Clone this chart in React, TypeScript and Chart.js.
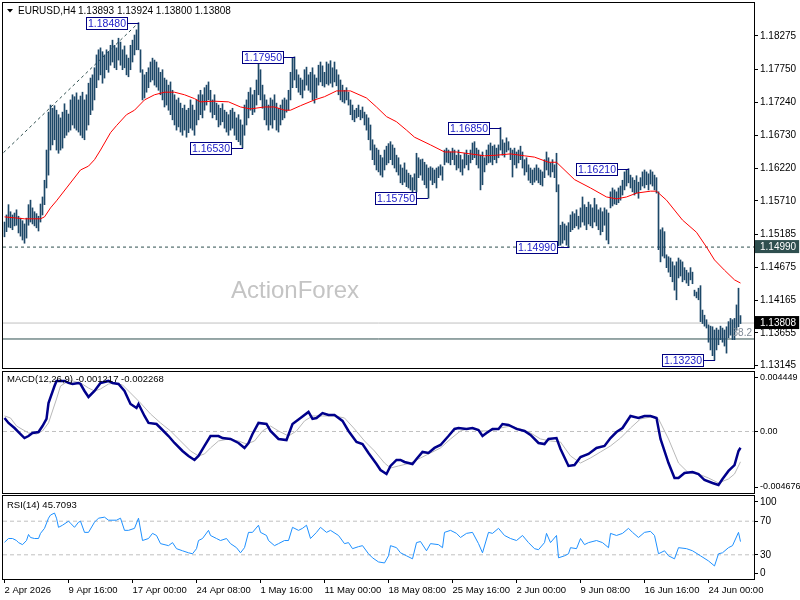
import React, { useEffect, useRef } from "react";
import { Chart, registerables } from "chart.js";
Chart.register(...registerables);

const FONT = "'Liberation Sans', Arial, sans-serif";

// ---------- header ----------
const symbolTitle = "EURUSD,H4";
const lastOHLC = [1.13893, 1.13924, 1.138, 1.13808];

// ---------- x axis ----------
const xTickIdx = [0, 32, 64, 96, 128, 160, 192, 224, 256, 288, 320, 352];
const xTickLabels = ["2 Apr 2026", "9 Apr 16:00", "17 Apr 00:00", "24 Apr 08:00", "1 May 16:00", "11 May 00:00", "18 May 08:00", "25 May 16:00", "2 Jun 00:00", "9 Jun 08:00", "16 Jun 16:00", "24 Jun 00:00"];

// ---------- price bars (H4) ----------
const highs = [
  1.1538,1.1549,1.1565,1.1554,1.1549,1.1552,1.1557,1.1547,1.1544,1.1540,
  1.1535,1.1544,1.1565,1.1572,1.1560,1.1554,1.1551,1.1547,1.1566,1.1577,
  1.1603,1.1650,1.1709,1.1720,1.1715,1.1719,1.1712,1.1705,1.1700,1.1709,
  1.1722,1.1712,1.1706,1.1728,1.1736,1.1733,1.1739,1.1728,1.1734,1.1740,
  1.1728,1.1736,1.1754,1.1762,1.1767,1.1778,1.1798,1.1806,1.1809,1.1803,
  1.1798,1.1806,1.1803,1.1813,1.1821,1.1813,1.1809,1.1824,1.1818,1.1806,
  1.1812,1.1798,1.1793,1.1813,1.1821,1.1829,1.1837,1.1848,1.1806,1.1775,
  1.1767,1.1771,1.1778,1.1787,1.1793,1.1790,1.1787,1.1778,1.1771,1.1775,
  1.1762,1.1759,1.1751,1.1756,1.1743,1.1736,1.1728,1.1731,1.1723,1.1715,
  1.1720,1.1712,1.1715,1.1728,1.1720,1.1712,1.1728,1.1736,1.1743,1.1736,
  1.1747,1.1751,1.1756,1.1743,1.1728,1.1736,1.1723,1.1720,1.1715,1.1722,
  1.1712,1.1709,1.1705,1.1712,1.1715,1.1709,1.1700,1.1705,1.1697,1.1689,
  1.1720,1.1728,1.1740,1.1747,1.1736,1.1743,1.1759,1.1787,1.1775,1.1751,
  1.1736,1.1728,1.1720,1.1731,1.1728,1.1736,1.1723,1.1715,1.1720,1.1728,
  1.1731,1.1728,1.1743,1.1771,1.1793,1.1795,1.1775,1.1767,1.1762,1.1759,
  1.1775,1.1779,1.1767,1.1771,1.1778,1.1767,1.1762,1.1782,1.1787,1.1781,
  1.1771,1.1787,1.1784,1.1789,1.1778,1.1787,1.1775,1.1767,1.1759,1.1751,
  1.1743,1.1747,1.1740,1.1728,1.1720,1.1712,1.1715,1.1720,1.1712,1.1717,
  1.1709,1.1705,1.1700,1.1689,1.1666,1.1658,1.1653,1.1650,1.1642,1.1638,
  1.1650,1.1656,1.1660,1.1663,1.1658,1.1653,1.1642,1.1638,1.1627,1.1622,
  1.1630,1.1619,1.1614,1.1611,1.1607,1.1613,1.1645,1.1638,1.1635,1.1636,
  1.1631,1.1627,1.1622,1.1624,1.1622,1.1619,1.1622,1.1624,1.1627,1.1624,
  1.1650,1.1653,1.1650,1.1647,1.1653,1.1650,1.1642,1.1650,1.1642,1.1635,
  1.1645,1.1650,1.1642,1.1650,1.1661,1.1663,1.1653,1.1650,1.1642,1.1647,
  1.1638,1.1650,1.1658,1.1661,1.1656,1.1658,1.1653,1.1658,1.1685,1.1666,
  1.1661,1.1669,1.1663,1.1653,1.1650,1.1653,1.1647,1.1650,1.1656,1.1647,
  1.1635,1.1638,1.1627,1.1622,1.1619,1.1622,1.1627,1.1622,1.1619,1.1616,
  1.1635,1.1647,1.1638,1.1630,1.1635,1.1627,1.1645,1.1596,1.1533,1.1538,
  1.1535,1.1532,1.1537,1.1549,1.1554,1.1551,1.1557,1.1547,1.1560,1.1577,
  1.1565,1.1561,1.1569,1.1565,1.1560,1.1575,1.1565,1.1557,1.1560,1.1554,
  1.1560,1.1557,1.1552,1.1585,1.1591,1.1588,1.1585,1.1591,1.1594,1.1603,
  1.1616,1.1619,1.1621,1.1611,1.1607,1.1603,1.1610,1.1600,1.1607,1.1616,
  1.1619,1.1616,1.1613,1.1619,1.1616,1.1611,1.1607,1.1585,1.1526,1.1529,
  1.1523,1.1487,1.1484,1.1482,1.1476,1.1470,1.1476,1.1482,1.1479,1.1476,
  1.1467,1.1463,1.1459,1.1467,1.1460,1.1432,1.1429,1.1435,1.1439,1.1401,
  1.1393,1.1386,1.1378,1.1376,1.1375,1.1370,1.1373,1.1370,1.1376,1.1373,
  1.1370,1.1375,1.1383,1.1388,1.1386,1.1388,1.1409,1.1435,1.13924
];
const lows = [
  1.1515,1.1523,1.1530,1.1529,1.1526,1.1532,1.1533,1.1521,1.1516,1.1510,
  1.1505,1.1513,1.1533,1.1538,1.1535,1.1532,1.1529,1.1524,1.1538,1.1549,
  1.1565,1.1591,1.1611,1.1650,1.1658,1.1666,1.1650,1.1645,1.1650,1.1653,
  1.1669,1.1673,1.1678,1.1681,1.1689,1.1684,1.1681,1.1678,1.1673,1.1669,
  1.1666,1.1681,1.1689,1.1705,1.1712,1.1728,1.1747,1.1759,1.1767,1.1754,
  1.1762,1.1775,1.1771,1.1782,1.1787,1.1778,1.1775,1.1790,1.1782,1.1775,
  1.1778,1.1767,1.1764,1.1775,1.1787,1.1798,1.1806,1.1806,1.1771,1.1728,
  1.1731,1.1740,1.1747,1.1756,1.1759,1.1751,1.1748,1.1743,1.1736,1.1728,
  1.1717,1.1720,1.1712,1.1705,1.1697,1.1689,1.1681,1.1686,1.1678,1.1673,
  1.1681,1.1670,1.1677,1.1684,1.1681,1.1673,1.1689,1.1697,1.1705,1.1700,
  1.1712,1.1720,1.1728,1.1709,1.1700,1.1705,1.1697,1.1686,1.1689,1.1694,
  1.1684,1.1678,1.1673,1.1681,1.1684,1.1673,1.1666,1.1663,1.1658,1.1653,
  1.1673,1.1689,1.1700,1.1712,1.1705,1.1709,1.1720,1.1736,1.1728,1.1715,
  1.1697,1.1689,1.1681,1.1689,1.1684,1.1697,1.1681,1.1678,1.1689,1.1697,
  1.1700,1.1709,1.1712,1.1728,1.1747,1.1759,1.1747,1.1740,1.1736,1.1731,
  1.1743,1.1751,1.1743,1.1740,1.1728,1.1723,1.1731,1.1751,1.1756,1.1750,
  1.1748,1.1753,1.1751,1.1754,1.1748,1.1756,1.1750,1.1736,1.1728,1.1725,
  1.1723,1.1728,1.1720,1.1705,1.1697,1.1694,1.1700,1.1702,1.1697,1.1700,
  1.1689,1.1681,1.1666,1.1650,1.1635,1.1627,1.1619,1.1616,1.1611,1.1608,
  1.1619,1.1627,1.1630,1.1635,1.1627,1.1622,1.1616,1.1611,1.1599,1.1596,
  1.1600,1.1593,1.1591,1.1588,1.1585,1.1588,1.1585,1.1607,1.1611,1.1603,
  1.1596,1.1591,1.1575,1.1603,1.1596,1.1599,1.1591,1.1607,1.1611,1.1603,
  1.1627,1.1631,1.1630,1.1627,1.1635,1.1627,1.1619,1.1622,1.1616,1.1611,
  1.1622,1.1627,1.1619,1.1630,1.1635,1.1638,1.1627,1.1622,1.1588,1.1596,
  1.1616,1.1627,1.1630,1.1631,1.1627,1.1635,1.1630,1.1638,1.1650,1.1642,
  1.1639,1.1647,1.1650,1.1635,1.1608,1.1627,1.1622,1.1630,1.1635,1.1622,
  1.1611,1.1616,1.1603,1.1599,1.1596,1.1600,1.1603,1.1599,1.1596,1.1594,
  1.1607,1.1619,1.1611,1.1608,1.1616,1.1607,1.1585,1.1501,1.1502,1.1505,
  1.1510,1.1502,1.1499,1.1523,1.1526,1.1529,1.1532,1.1527,1.1530,1.1538,
  1.1533,1.1526,1.1535,1.1532,1.1529,1.1538,1.1532,1.1526,1.1518,1.1523,
  1.1533,1.1510,1.1504,1.1560,1.1563,1.1566,1.1565,1.1568,1.1572,1.1580,
  1.1588,1.1594,1.1599,1.1591,1.1585,1.1580,1.1583,1.1575,1.1588,1.1594,
  1.1591,1.1596,1.1588,1.1597,1.1594,1.1588,1.1583,1.1495,1.1476,1.1485,
  1.1482,1.1467,1.1460,1.1453,1.1445,1.1432,1.1417,1.1451,1.1454,1.1445,
  1.1448,1.1443,1.1439,1.1448,1.1442,1.1423,1.1420,1.1417,1.1383,1.1380,
  1.1376,1.1373,1.1351,1.1339,1.1330,1.1323,1.1339,1.1347,1.1355,1.1351,
  1.1345,1.1334,1.1358,1.1362,1.1355,1.1355,1.1370,1.1375,1.1380
];

// ---------- moving average (red) ----------
const maIdx = [0,10,18,20,23,26,31,38,42,45,48,53,56,61,65,70,75,80,85,90,95,98,105,112,118,123,130,135,140,143,148,155,160,166,173,181,186,191,196,201,205,213,220,226,233,240,246,253,260,265,272,276,285,293,301,306,311,316,323,326,331,339,346,351,355,360,365,368];
const maVal = [1.1546,1.1543,1.1543,1.1546,1.1560,1.1571,1.1591,1.1619,1.1625,1.1635,1.1650,1.1677,1.1688,1.1705,1.1712,1.1728,1.1736,1.1740,1.1740,1.1736,1.1730,1.1725,1.1726,1.1725,1.1717,1.1714,1.1717,1.1717,1.1712,1.1712,1.1719,1.1728,1.1733,1.1742,1.1742,1.1731,1.1717,1.1702,1.1694,1.1681,1.1670,1.1658,1.1647,1.1647,1.1644,1.1641,1.1642,1.1644,1.1641,1.1639,1.1631,1.1631,1.1604,1.1591,1.1577,1.1574,1.1577,1.1583,1.1586,1.1586,1.1572,1.1541,1.1522,1.1499,1.1479,1.1463,1.1448,1.1443];

// ---------- objects ----------
const trendIdx = [-0.5, 67];
const trendVal = [1.1646, 1.1848];
const supportLevel = 1.1499;
const fiboLevel = 1.1356;
const fiboText = "38.2";
const swingIdx = [67, 119, 145, 212, 248, 282, 312, 355];
const swingPrice = [1.1848, 1.1653, 1.1795, 1.1575, 1.1685, 1.1499, 1.1621, 1.1323];

// ---------- price axis ----------
const PRICE_MIN = 1.13093;
const PRICE_MAX = 1.18788;
const priceTicks = [1.18275, 1.1775, 1.1724, 1.1673, 1.1622, 1.1571, 1.15185, 1.1499, 1.14675, 1.14165, 1.13808, 1.13655, 1.13145];
const markedPrices = [1.1499, 1.13808];
const markedColors = ["#2f4f4f", "#000000"];

// ---------- MACD ----------
const MACD_MIN = -0.004676;
const MACD_MAX = 0.004449;
const macdTickLabels = ["0.004449", "0.00", "-0.004676"];
const macdIdx = [0,2,5,8,10,12,14,17,19,21,22,25,26,30,32,34,37,38,40,42,45,48,52,54,57,60,63,66,67,70,72,76,78,82,85,89,92,95,97,100,103,107,109,113,117,120,122,124,127,131,133,137,141,144,148,152,154,156,159,162,165,169,172,176,179,182,186,188,191,193,196,198,200,204,206,209,212,215,218,222,225,227,231,234,237,239,241,244,247,249,252,256,260,263,267,270,272,276,278,282,285,288,292,296,300,303,306,309,313,317,320,323,326,328,332,335,337,340,344,347,350,354,357,359,362,365,367,368];
const macdVal = [0.00101,0.00064,0.00026,-0.00019,-0.00049,-0.00034,-0.00011,-0.00004,0.00041,0.00094,0.00213,0.0034,0.00378,0.00378,0.00363,0.00355,0.00363,0.00355,0.00303,0.00258,0.00303,0.00363,0.00378,0.00363,0.00355,0.00303,0.00206,0.00176,0.00206,0.00116,0.00064,0.00056,0.00026,-0.00034,-0.00086,-0.00146,-0.00183,-0.00213,-0.00183,-0.00108,-0.00034,-0.00034,-0.00049,-0.00056,-0.00086,-0.00123,-0.00086,-0.00019,0.00064,0.00056,0.00004,-0.00056,-0.00064,0.00056,0.00101,0.00146,0.00094,0.00101,0.00138,0.00123,0.00123,0.00079,0.00004,-0.00079,-0.00094,-0.00161,-0.00243,-0.00288,-0.00318,-0.00258,-0.00213,-0.00213,-0.00228,-0.00243,-0.00206,-0.00153,-0.00161,-0.00123,-0.00101,-0.00034,0.00019,0.00026,0.00019,0.00026,0.00011,-0.00034,-0.00011,0.00019,0.00019,0.00056,0.00049,0.00019,0.00004,-0.00026,-0.00086,-0.00094,-0.00056,-0.00049,-0.00131,-0.00258,-0.00251,-0.00191,-0.00168,-0.00123,-0.00108,-0.00049,-0.00004,0.00026,0.00116,0.00101,0.00116,0.00116,0.00101,-0.00056,-0.00236,-0.00348,-0.00348,-0.0031,-0.00303,-0.00318,-0.00363,-0.00385,-0.004,-0.00355,-0.00295,-0.00251,-0.00146,-0.001217];
const sigIdx = [0,3,6,12,16,19,22,26,28,32,34,38,42,45,48,52,55,59,63,68,73,78,83,88,93,97,100,103,107,112,117,121,125,129,133,137,142,146,150,154,159,165,170,175,180,185,190,193,197,203,208,213,218,223,228,233,238,243,248,253,258,263,268,273,278,283,288,293,298,303,308,313,318,323,327,332,337,342,347,352,357,362,365,368];
const sigVal = [0.00116,0.00101,0.00041,-0.00011,-0.00019,0.00004,0.00064,0.00243,0.0034,0.00378,0.00378,0.00363,0.00325,0.00303,0.00318,0.00355,0.00363,0.00348,0.00288,0.00213,0.00131,0.00064,0.00004,-0.00071,-0.00146,-0.00183,-0.00168,-0.00123,-0.00071,-0.00056,-0.00071,-0.00094,-0.00071,0.00004,0.00041,0.00004,-0.00034,0.00004,0.00079,0.00116,0.00116,0.00116,0.00101,0.00019,-0.00071,-0.00146,-0.00236,-0.00273,-0.00258,-0.00236,-0.00198,-0.00161,-0.00123,-0.00056,0.00004,0.00026,0.00004,0.00004,0.00026,0.00041,0.00019,-0.00011,-0.00056,-0.00071,-0.00079,-0.00183,-0.00236,-0.00198,-0.00153,-0.00108,-0.00049,0.00026,0.00094,0.00108,0.00094,-0.00056,-0.00236,-0.0031,-0.00318,-0.00348,-0.00385,-0.00355,-0.00318,-0.002268];

// ---------- RSI ----------
const rsiTickLabels = ["100", "70", "30", "0"];
const rsiLevels = [70, 30];
const rsiIdx = [0,2,4,6,7,9,11,12,13,15,17,18,20,22,23,25,26,27,29,32,33,35,37,38,40,42,45,47,50,52,56,58,60,62,65,67,69,72,74,76,78,82,84,86,89,92,94,96,97,99,102,103,106,108,111,113,116,118,120,122,124,127,128,131,132,135,137,140,142,144,147,149,151,153,156,158,161,163,167,170,172,174,177,179,182,184,187,190,192,193,196,198,201,204,206,208,211,213,217,219,220,223,226,228,231,234,237,239,242,244,247,250,253,256,259,262,265,267,270,271,273,276,277,280,282,283,286,288,290,292,296,299,302,303,306,309,312,314,317,320,323,325,327,330,332,335,337,341,344,348,352,355,357,359,362,364,367,368];
const rsiVal = [44.9,49.4,49.4,47.0,44.5,42.1,47.0,54.2,50.6,49.4,49.4,55.5,61.5,73.6,77.3,79.7,73.6,62.7,65.2,70.0,67.6,62.7,68.8,70.0,56.7,56.7,68.8,73.6,74.8,71.2,71.2,73.6,59.1,59.1,61.5,73.6,47.0,49.4,55.5,53.0,43.3,40.9,44.5,37.3,34.8,32.4,31.2,37.3,47.0,49.4,59.1,53.0,49.4,47.0,49.4,43.3,38.5,32.4,38.5,56.7,56.7,65.2,56.7,53.0,47.0,40.9,43.3,47.0,47.0,62.7,59.1,61.5,65.2,49.4,56.7,62.7,56.7,59.1,53.0,43.3,44.5,37.3,39.7,40.9,31.2,26.4,21.5,20.3,28.8,40.9,38.5,32.4,28.8,25.2,44.5,45.8,34.8,43.3,42.1,38.5,56.7,59.1,55.5,50.6,55.5,56.7,43.3,32.4,56.7,55.5,61.5,53.0,49.4,47.0,53.0,44.5,37.3,36.1,44.5,55.5,44.5,53.0,26.4,28.8,31.2,38.5,37.3,49.4,42.1,44.5,47.0,44.5,38.5,55.5,53.0,55.5,61.5,56.7,50.6,56.7,57.9,53.0,31.2,34.8,28.8,25.2,38.5,37.3,34.8,28.8,22.7,16.7,31.2,32.4,38.5,40.9,56.7,45.7093];

// ---------- helpers ----------
const X_MIN = -0.75;
const X_MAX = 374.75;
const pts = (xs: number[], ys: number[]) => xs.map((x, k) => ({ x, y: ys[k] }));
const span = (v: number) => [{ x: X_MIN, y: v }, { x: X_MAX, y: v }];
const markIndex = (v: any) => markedPrices.findIndex((p) => Math.abs(p - Number(v)) < 1e-7);

const framePlugin = {
  id: "frame",
  afterDraw(chart: any) {
    const { ctx, chartArea: a } = chart;
    ctx.save();
    ctx.strokeStyle = "#000";
    ctx.lineWidth = 1;
    ctx.strokeRect(a.left - 0.5, a.top - 0.5, a.right - a.left + 1, a.bottom - a.top);
    ctx.restore();
  },
};

const noPad = (s: any) => {
  s.paddingTop = 0;
  s.paddingBottom = 0;
  s.paddingLeft = 0;
  s.paddingRight = 0;
};

function rightAxis(min: number, max: number, tickVals: number[], labelFn: any, fontSize: number, extraTicks: any = {}) {
  return {
    type: "linear",
    position: "right",
    min,
    max,
    afterFit: (s: any) => {
      s.width = 46;
      noPad(s);
    },
    afterBuildTicks: (s: any) => {
      s.ticks = tickVals.map((v) => ({ value: v }));
    },
    grid: { drawOnChartArea: false, drawTicks: true, tickLength: 4, color: "#000" },
    border: { display: false },
    ticks: {
      autoSkip: false,
      padding: 2,
      color: "#000",
      font: { family: FONT, size: fontSize },
      callback: labelFn,
      ...extraTicks,
    },
  };
}

const hiddenX = { type: "linear", min: X_MIN, max: X_MAX, display: false, offset: false };

const baseOptions = {
  animation: false,
  responsive: false,
  devicePixelRatio: 1,
  events: [],
  plugins: { legend: { display: false }, tooltip: { enabled: false } },
  elements: { line: { tension: 0 }, point: { radius: 0 } },
};

const mainOverlay = {
  id: "mainOverlay",
  beforeDatasetsDraw(chart: any) {
    const { ctx, chartArea: a } = chart;
    ctx.save();
    ctx.font = `24px ${FONT}`;
    ctx.fillStyle = "#c4c4c4";
    ctx.textAlign = "center";
    ctx.textBaseline = "middle";
    ctx.fillText("ActionForex", a.left + 292, a.top + 288);
    ctx.restore();
  },
  afterDatasetsDraw(chart: any) {
    const { ctx, chartArea: a } = chart;
    const xs = chart.scales.x;
    const ys = chart.scales.y;
    ctx.save();
    ctx.lineWidth = 1;
    ctx.font = `10.5px ${FONT}`;
    ctx.textAlign = "center";
    ctx.textBaseline = "middle";
    swingIdx.forEach((idx, k) => {
      const px = Math.round(xs.getPixelForValue(idx));
      const py = Math.round(ys.getPixelForValue(swingPrice[k]));
      const bw = 42;
      const bh = 13;
      const bx = px - 11 - bw;
      const by = py - 6;
      ctx.strokeStyle = "#000080";
      ctx.beginPath();
      ctx.moveTo(bx + bw, py + 0.5);
      ctx.lineTo(px, py + 0.5);
      ctx.stroke();
      ctx.fillStyle = "#fff";
      ctx.fillRect(bx, by, bw, bh);
      ctx.strokeRect(bx + 0.5, by + 0.5, bw - 1, bh - 1);
      ctx.fillStyle = "#1a1ac8";
      ctx.fillText(swingPrice[k].toFixed(5), bx + bw / 2, py + 1);
    });
    const fy = ys.getPixelForValue(fiboLevel);
    ctx.font = `10px ${FONT}`;
    ctx.textAlign = "right";
    ctx.textBaseline = "bottom";
    ctx.fillStyle = "#7f8a96";
    ctx.fillText(fiboText, a.right - 2, fy - 1);
    ctx.restore();
  },
  afterDraw(chart: any) {
    const { ctx } = chart;
    ctx.save();
    ctx.fillStyle = "#000";
    ctx.beginPath();
    ctx.moveTo(7, 9);
    ctx.lineTo(13, 9);
    ctx.lineTo(10, 12.5);
    ctx.closePath();
    ctx.fill();
    ctx.font = `10px ${FONT}`;
    ctx.textAlign = "left";
    ctx.textBaseline = "middle";
    ctx.fillText(symbolTitle, 18, 11);
    ctx.fillText(lastOHLC.map((v) => v.toFixed(5)).join(" "), 78, 11);
    ctx.restore();
  },
};

const macdOverlay = {
  id: "macdOverlay",
  afterDraw(chart: any) {
    const { ctx, chartArea: a } = chart;
    ctx.save();
    ctx.font = `9.5px ${FONT}`;
    ctx.fillStyle = "#000";
    ctx.textAlign = "left";
    ctx.textBaseline = "middle";
    const m = macdVal[macdVal.length - 1].toFixed(6);
    const s = sigVal[sigVal.length - 1].toFixed(6);
    ctx.fillText(`MACD(12,26,9) ${m} ${s}`, a.left + 4, a.top + 7);
    ctx.restore();
  },
};

const rsiOverlay = {
  id: "rsiOverlay",
  afterDraw(chart: any) {
    const { ctx, chartArea: a } = chart;
    ctx.save();
    ctx.font = `9.5px ${FONT}`;
    ctx.fillStyle = "#000";
    ctx.textAlign = "left";
    ctx.textBaseline = "middle";
    ctx.fillText(`RSI(14) ${rsiVal[rsiVal.length - 1].toFixed(4)}`, a.left + 4, a.top + 9);
    ctx.restore();
  },
};

function mainConfig(): any {
  return {
    type: "bar",
    data: {
      datasets: [
        { type: "line", data: pts(trendIdx, trendVal), borderColor: "#2f4f4f", borderWidth: 1, borderDash: [3, 3], pointRadius: 0, order: 3 },
        { type: "line", data: span(supportLevel), borderColor: "#2f4f4f", borderWidth: 1, borderDash: [3, 3], pointRadius: 0, order: 3 },
        { type: "line", data: span(lastOHLC[3]), borderColor: "#c0c0c0", borderWidth: 1, pointRadius: 0, order: 3 },
        { type: "line", data: span(fiboLevel), borderColor: "#2f4f4f", borderWidth: 1, pointRadius: 0, order: 3 },
        {
          type: "bar",
          data: highs.map((h, i) => ({ x: i, y: [lows[i], h] })),
          backgroundColor: "#1d4868",
          borderWidth: 0,
          barThickness: 1,
          grouped: false,
          order: 2,
        },
        { type: "line", data: pts(maIdx, maVal), borderColor: "#ff0000", borderWidth: 1, pointRadius: 0, order: 1 },
      ],
    },
    options: {
      ...baseOptions,
      layout: { padding: { left: 3, top: 3, right: 0, bottom: 1 } },
      scales: {
        x: hiddenX,
        y: rightAxis(PRICE_MIN, PRICE_MAX, priceTicks, (v: any) => Number(v).toFixed(5), 10, {
          color: (c: any) => (markIndex(c.tick?.value) >= 0 ? "#fff" : "#000"),
          showLabelBackdrop: (c: any) => markIndex(c.tick?.value) >= 0,
          backdropColor: (c: any) => {
            const k = markIndex(c.tick?.value);
            return k >= 0 ? markedColors[k] : "rgba(0,0,0,0)";
          },
          backdropPadding: { left: 5, right: 3, top: 1, bottom: 0 },
        }),
      },
    },
    plugins: [mainOverlay, framePlugin],
  };
}

function macdConfig(): any {
  const r = MACD_MAX - MACD_MIN;
  const tickPos = [MACD_MAX - (r * 6) / 122, 0, MACD_MIN + (r * 7) / 122];
  return {
    type: "line",
    data: {
      datasets: [
        { data: pts(macdIdx, macdVal), borderColor: "#00008b", borderWidth: 2.5, pointRadius: 0, order: 0 },
        { data: pts(sigIdx, sigVal), borderColor: "#b8b8b8", borderWidth: 1, pointRadius: 0, order: 1 },
        { data: span(0), borderColor: "#c0c0c0", borderWidth: 1, borderDash: [4, 3], pointRadius: 0, order: 2 },
      ],
    },
    options: {
      ...baseOptions,
      layout: { padding: { left: 3, top: 2, right: 0, bottom: 0 } },
      scales: {
        x: hiddenX,
        y: rightAxis(MACD_MIN, MACD_MAX, tickPos, (_v: any, i: number) => macdTickLabels[i], 9),
      },
    },
    plugins: [macdOverlay, framePlugin],
  };
}

function rsiConfig(): any {
  const tickPos = [100 - (100 * 6) / 84, 70, 30, (100 * 7) / 84];
  return {
    type: "line",
    data: {
      datasets: [
        { data: pts(rsiIdx, rsiVal), borderColor: "#1e90ff", borderWidth: 1, pointRadius: 0, order: 0 },
        ...rsiLevels.map((lv) => ({ data: span(lv), borderColor: "#c0c0c0", borderWidth: 1, borderDash: [4, 3], pointRadius: 0, order: 1 })),
      ],
    },
    options: {
      ...baseOptions,
      layout: { padding: { left: 3, top: 2, right: 0, bottom: 0 } },
      scales: {
        x: {
          type: "linear",
          min: X_MIN,
          max: X_MAX,
          offset: false,
          position: "bottom",
          afterFit: (s: any) => {
            s.height = 20;
            noPad(s);
          },
          afterBuildTicks: (s: any) => {
            s.ticks = xTickIdx.map((v) => ({ value: v }));
          },
          grid: { drawOnChartArea: false, drawTicks: true, tickLength: 3, color: "#000" },
          border: { display: false },
          ticks: {
            autoSkip: false,
            maxRotation: 0,
            minRotation: 0,
            align: "start",
            padding: 2,
            color: "#000",
            font: { family: FONT, size: 9.5 },
            callback: (_v: any, i: number) => xTickLabels[i],
          },
        },
        y: rightAxis(0, 100, tickPos, (_v: any, i: number) => rsiTickLabels[i], 10),
      },
    },
    plugins: [rsiOverlay, framePlugin],
  };
}

export default function App() {
  const mainRef = useRef<HTMLCanvasElement>(null);
  const macdRef = useRef<HTMLCanvasElement>(null);
  const rsiRef = useRef<HTMLCanvasElement>(null);

  useEffect(() => {
    Chart.defaults.font.family = FONT;
    Chart.defaults.color = "#000";
    const charts = [
      new Chart(mainRef.current as HTMLCanvasElement, mainConfig()),
      new Chart(macdRef.current as HTMLCanvasElement, macdConfig()),
      new Chart(rsiRef.current as HTMLCanvasElement, rsiConfig()),
    ];
    return () => charts.forEach((c) => c.destroy());
  }, []);

  const cs = (top: number, h: number): React.CSSProperties => ({ position: "absolute", left: 0, top, width: 800, height: h });

  return (
    <div style={{ position: "absolute", left: 0, top: 0, width: 800, height: 600, background: "#fff", overflow: "hidden" }}>
      <canvas ref={mainRef} width={800} height={370} style={cs(0, 370)} />
      <canvas ref={macdRef} width={800} height={124} style={cs(370, 124)} />
      <canvas ref={rsiRef} width={800} height={106} style={cs(494, 106)} />
    </div>
  );
}
